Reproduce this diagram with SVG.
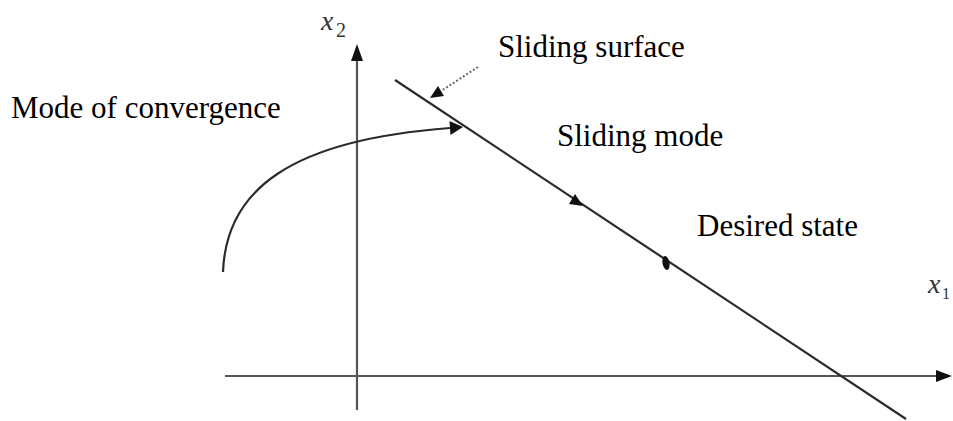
<svg xmlns="http://www.w3.org/2000/svg" width="953" height="421" viewBox="0 0 953 421">
<style>
  .lbl { font-family: "Liberation Serif", "Times New Roman", serif; font-size: 31px; fill: #000; }
  .ax { font-family: "Liberation Serif", "Times New Roman", serif; fill: #333; }
  .line { stroke: #2a2a2a; stroke-width: 2.2; fill: none; }
  .axis { stroke: #555; stroke-width: 2.2; fill: none; }
  .head { fill: #111; }
</style>
<rect width="953" height="421" fill="#fff"/>
<g id="axes">
  <line class="axis" x1="357" y1="56" x2="357" y2="410"/>
  <polygon class="head" points="357,44 351,61 363,61"/>
  <line class="axis" x1="225" y1="376" x2="940" y2="376"/>
  <polygon class="head" points="952,376 936,370 936,382"/>
  <text class="ax" x="321" y="30" font-size="28" font-style="italic">x</text>
  <text class="ax" x="336" y="37" font-size="20">2</text>
  <text class="ax" x="928" y="293" font-size="28" font-style="italic">x</text>
  <text class="ax" x="942" y="299" font-size="16">1</text>
</g>
<g id="sliding-surface-line">
  <line class="line" x1="395" y1="80" x2="906" y2="419"/>
</g>
<g id="desired-state-point">
  <ellipse cx="666" cy="263" rx="3.5" ry="7" fill="#111" transform="rotate(-10 666 263)"/>
</g>
<g id="labels">
  <text id="label-sliding-surface" class="lbl" x="498" y="57">Sliding surface</text>
  <text id="label-mode-of-convergence" class="lbl" x="11" y="118">Mode of convergence</text>
  <text id="label-sliding-mode" class="lbl" x="557" y="146">Sliding mode</text>
  <text id="label-desired-state" class="lbl" x="697" y="236">Desired state</text>
</g>
<g id="connectors">
  <path class="line" d="M223,272 C226,190 290,140 450,128"/>
  <polygon class="head" points="463,127 449.5,121 450.5,135"/>
  <line x1="478" y1="67" x2="441" y2="91" stroke="#666" stroke-width="2" stroke-dasharray="2,2"/>
  <polygon class="head" points="430,98 438,86 444,96"/>
  <polygon class="head" points="583,206 569,204 575,194"/>
</g>
</svg>
